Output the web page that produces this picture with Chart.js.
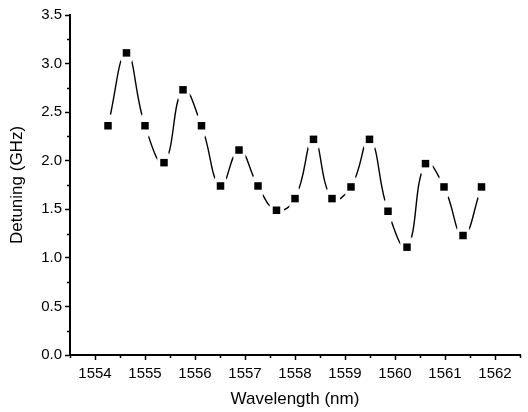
<!DOCTYPE html>
<html>
<head>
<meta charset="utf-8">
<script src="https://cdn.jsdelivr.net/npm/chart.js@4/dist/chart.umd.min.js"></script>
<style>
  html, body { margin: 0; padding: 0; background: #fff; }
  #wrap { width: 528px; height: 412px; }
</style>
</head>
<body>
<div id="wrap"><canvas id="c" width="528" height="412"></canvas></div>
<script>
// measured points (nm, GHz)
var wavelength = [1554.26, 1554.63, 1555.00, 1555.38, 1555.76, 1556.13, 1556.51,
                  1556.88, 1557.26, 1557.63, 1558.00, 1558.37, 1558.74, 1559.12,
                  1559.49, 1559.86, 1560.24, 1560.61, 1560.98, 1561.36, 1561.73];
var detuning   = [2.36, 3.11, 2.36, 1.98, 2.73, 2.36, 1.74,
                  2.11, 1.74, 1.49, 1.61, 2.22, 1.61, 1.73,
                  2.22, 1.48, 1.11, 1.97, 1.73, 1.23, 1.73];
var xTicks = [1554, 1555, 1556, 1557, 1558, 1559, 1560, 1561, 1562];
var yTicks = [0.0, 0.5, 1.0, 1.5, 2.0, 2.5, 3.0, 3.5];

var pts = wavelength.map(function (x, i) { return { x: x, y: detuning[i] }; });

// white ellipse behind each marker -> gap between spline and symbol
var halo = document.createElement('canvas');
halo.width = 15; halo.height = 24;
(function () {
  var g = halo.getContext('2d');
  g.fillStyle = '#fff';
  g.beginPath();
  g.ellipse(7.5, 12, 7.5, 12, 0, 0, Math.PI * 2);
  g.fill();
})();

function isMajor(v, list) {
  return list.some(function (t) { return Math.abs(t - v) < 1e-6; });
}

var font = { family: "'Liberation Sans', Arial, sans-serif", size: 15 };
var titleFont = { family: "'Liberation Sans', Arial, sans-serif", size: 17 };

// short minor ticks, drawn from the scales
var minorTicks = {
  id: 'minorTicks',
  afterDraw: function (chart) {
    var c = chart.ctx, xs = chart.scales.x, ys = chart.scales.y;
    c.save();
    c.strokeStyle = '#000';
    c.lineWidth = 1.5;
    c.beginPath();
    ys.ticks.forEach(function (t) {
      if (isMajor(t.value, yTicks)) return;
      var py = Math.round(ys.getPixelForValue(t.value)) + 0.5;
      c.moveTo(ys.right, py); c.lineTo(ys.right - 3, py);
    });
    xs.ticks.forEach(function (t) {
      if (isMajor(t.value, xTicks)) return;
      var px = Math.round(xs.getPixelForValue(t.value)) + 0.5;
      c.moveTo(px, xs.top); c.lineTo(px, xs.top + 3);
    });
    c.stroke();
    c.restore();
  }
};

new Chart(document.getElementById('c'), {
  type: 'line',
  data: {
    datasets: [
      {
        data: pts, showLine: false,
        pointStyle: 'rect', pointRadius: 5.3, pointBorderWidth: 0,
        pointBackgroundColor: '#000', pointBorderColor: '#000'
      },
      {
        data: pts, showLine: false,
        pointStyle: halo, pointRadius: 8, pointBorderWidth: 0
      },
      {
        data: pts, borderColor: '#000', borderWidth: 1.4,
        tension: 0.45, pointRadius: 0, fill: false
      }
    ]
  },
  options: {
    responsive: false,
    animation: false,
    events: [],
    layout: { padding: { top: 15, right: 6, left: 0, bottom: 0 } },
    plugins: { legend: { display: false }, tooltip: { enabled: false } },
    scales: {
      x: {
        type: 'linear', min: 1553.5, max: 1562.5,
        afterFit: function (s) { s.height = 57; },
        border: { color: '#000', width: 2 },
        grid: {
          drawOnChartArea: false, tickLength: 5, tickWidth: 1.5,
          tickColor: function (ctx) { return ctx.tick && isMajor(ctx.tick.value, xTicks) ? '#000' : 'rgba(0,0,0,0)'; }
        },
        ticks: {
          stepSize: 0.5, autoSkip: false, maxRotation: 0, padding: 5,
          color: '#000', font: font,
          callback: function (v) { return isMajor(v, xTicks) ? String(Math.round(v)) : ''; }
        },
        title: { display: true, text: 'Wavelength (nm)', color: '#000', font: titleFont, padding: { top: 0, bottom: 2 } }
      },
      y: {
        min: 0, max: 3.5,
        afterFit: function (s) { s.width = 70; },
        border: { color: '#000', width: 2 },
        grid: {
          drawOnChartArea: false, tickLength: 5, tickWidth: 1.5,
          tickColor: function (ctx) { return ctx.tick && isMajor(ctx.tick.value, yTicks) ? '#000' : 'rgba(0,0,0,0)'; }
        },
        ticks: {
          stepSize: 0.25, autoSkip: false, padding: 3,
          color: '#000', font: font,
          callback: function (v) { return isMajor(v, yTicks) ? v.toFixed(1) : ''; }
        },
        title: { display: true, text: 'Detuning (GHz)', color: '#000', font: titleFont, padding: { top: 7, bottom: 0 } }
      }
    }
  },
  plugins: [minorTicks]
});
</script>
</body>
</html>
